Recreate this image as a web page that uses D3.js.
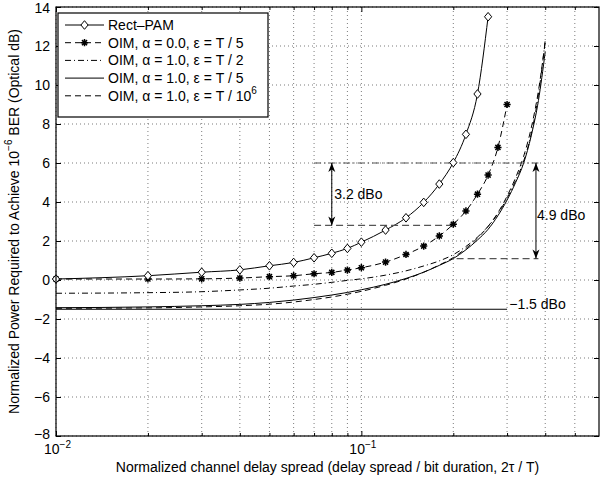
<!DOCTYPE html>
<html>
<head>
<meta charset="utf-8">
<script src="https://cdnjs.cloudflare.com/ajax/libs/d3/7.8.5/d3.min.js"></script>
<style>
  body { margin: 0; background: #fff; }
  svg { font-family: "Liberation Sans", Arial, Helvetica, sans-serif; }
</style>
</head>
<body>
<div id="chart"></div>
<script>
// ---- data ----
var pamX = [0.01, 0.02, 0.03, 0.04, 0.05, 0.06, 0.07, 0.08, 0.09, 0.1, 0.12, 0.14, 0.16, 0.18, 0.2, 0.22, 0.24, 0.26];
var pamY = [0.05, 0.22, 0.4, 0.52, 0.73, 0.9, 1.14, 1.37, 1.62, 1.94, 2.56, 3.19, 3.98, 4.92, 6.02, 7.47, 9.54, 13.5];

var oimA0X = [0.01, 0.02, 0.03, 0.04, 0.05, 0.06, 0.07, 0.08, 0.09, 0.1, 0.12, 0.14, 0.16, 0.18, 0.2, 0.22, 0.24, 0.26, 0.28, 0.3];
var oimA0Y = [0.05, 0.05, 0.06, 0.1, 0.17, 0.22, 0.32, 0.39, 0.51, 0.63, 0.92, 1.31, 1.74, 2.26, 2.86, 3.54, 4.4, 5.38, 6.8, 9.0];

var oimX = [0.01, 0.02, 0.03, 0.04, 0.05, 0.06, 0.07, 0.08, 0.09, 0.1, 0.12, 0.14, 0.16, 0.18, 0.2, 0.22, 0.24, 0.26, 0.28, 0.3, 0.32, 0.34, 0.36, 0.38, 0.4];
var oimHalfY = [-0.68, -0.65, -0.6, -0.51, -0.42, -0.31, -0.22, -0.12, -0.02, 0.06, 0.25, 0.47, 0.72, 0.98, 1.3, 1.72, 2.2, 2.75, 3.4, 4.2, 5.1, 6.1, 7.5, 9.5, 12.3];
var oimFifthY = [-1.42, -1.38, -1.32, -1.25, -1.15, -1.03, -0.9, -0.77, -0.64, -0.5, -0.22, 0.08, 0.4, 0.75, 1.1, 1.55, 2.05, 2.6, 3.3, 4.1, 5.0, 6.0, 7.4, 9.2, 11.7];
var oimTinyY = [-1.45, -1.43, -1.38, -1.32, -1.24, -1.13, -1.0, -0.87, -0.73, -0.58, -0.27, 0.05, 0.4, 0.77, 1.15, 1.62, 2.15, 2.75, 3.45, 4.3, 5.25, 6.35, 7.8, 9.7, 12.2];

var legendLabels = ["Rect\u2013PAM", "OIM, \u03b1 = 0.0, \u03b5 = T / 5", "OIM, \u03b1 = 1.0, \u03b5 = T / 2", "OIM, \u03b1 = 1.0, \u03b5 = T / 5", "OIM, \u03b1 = 1.0, \u03b5 = T / 10"];

var yTicks = [14, 12, 10, 8, 6, 4, 2, 0, -2, -4, -6, -8];
var xMajor = [0.01, 0.1];
var xMajorExp = ["\u22122", "\u22121"];
var xMinor = [0.02, 0.03, 0.04, 0.05, 0.06, 0.07, 0.08, 0.09, 0.2, 0.3, 0.4, 0.5];

// annotation values (dB)
var pamAt02 = 6.0, oimA0At02 = 2.8, oimAt02 = 1.1, floorLevel = -1.5;

// ---- layout ----
var W = 610, H = 483;
var margin = {top: 7, right: 11, bottom: 47, left: 56};
var w = W - margin.left - margin.right;
var h = H - margin.top - margin.bottom;
var fs = 14;

var svg = d3.select("#chart").append("svg")
  .attr("width", W).attr("height", H);

var defs = svg.append("defs");
defs.append("clipPath").attr("id", "clip")
  .append("rect").attr("width", w).attr("height", h);
defs.append("marker")
  .attr("id", "arrow")
  .attr("viewBox", "-10 -5 12 10")
  .attr("refX", 0).attr("refY", 0)
  .attr("markerWidth", 12).attr("markerHeight", 10)
  .attr("markerUnits", "userSpaceOnUse")
  .attr("orient", "auto-start-reverse")
  .append("path")
  .attr("d", "M0,0 L-9,-3.5 L-6.5,0 L-9,3.5 Z")
  .attr("fill", "#000");

var g = svg.append("g").attr("transform", "translate(" + margin.left + "," + margin.top + ")");

var x = d3.scaleLog().domain([0.01, 0.6]).range([0, w]);
var y = d3.scaleLinear().domain([-8, 14]).range([h, 0]);

// grid
var grid = g.append("g").attr("stroke", "#444").attr("stroke-width", 0.7).attr("stroke-dasharray", "1,3");
grid.selectAll(".gy").data(yTicks).enter().append("line")
  .attr("x1", 0).attr("x2", w)
  .attr("y1", function(d) { return y(d); }).attr("y2", function(d) { return y(d); });
grid.selectAll(".gx").data(xMajor.concat(xMinor)).enter().append("line")
  .attr("y1", 0).attr("y2", h)
  .attr("x1", function(d) { return x(d); }).attr("x2", function(d) { return x(d); });

// axes (inward ticks, labels drawn separately)
g.append("g").attr("transform", "translate(0," + h + ")")
  .call(d3.axisBottom(x).tickValues(xMajor).tickSize(-5).tickFormat(""));
g.append("g").attr("transform", "translate(0," + h + ")")
  .call(d3.axisBottom(x).tickValues(xMinor).tickSize(-3).tickFormat(""));
g.append("g")
  .call(d3.axisTop(x).tickValues(xMajor).tickSize(-5).tickFormat(""));
g.append("g")
  .call(d3.axisTop(x).tickValues(xMinor).tickSize(-3).tickFormat(""));
g.append("g")
  .call(d3.axisLeft(y).tickValues(yTicks).tickSize(-5).tickFormat(""));
g.append("g").attr("transform", "translate(" + w + ",0)")
  .call(d3.axisRight(y).tickValues(yTicks).tickSize(-5).tickFormat(""));
g.selectAll(".domain").remove();
g.selectAll(".tick line").attr("stroke", "#000");

// y tick labels
g.selectAll(".ylab").data(yTicks).enter().append("text")
  .attr("x", -6)
  .attr("y", function(d) { return y(d) + (d === 14 ? 1 : (d === -8 ? -1.5 : 0)); })
  .attr("dy", "0.35em")
  .attr("text-anchor", "end")
  .attr("font-size", fs)
  .text(function(d) { return d < 0 ? "\u2212" + Math.abs(d) : d; });

// x tick labels 10^n
var xl = g.selectAll(".xlab").data(xMajor).enter().append("text")
  .attr("x", function(d) { return x(d) - 12; })
  .attr("y", h + 18)
  .attr("font-size", fs);
xl.append("tspan").text("10");
xl.append("tspan").attr("dy", -6).attr("font-size", 10).text(function(d, i) { return xMajorExp[i]; });

// curves
var clip = g.append("g").attr("clip-path", "url(#clip)");
function makeLine(xv) {
  return d3.line()
    .x(function(d, i) { return x(xv[i]); })
    .y(function(d) { return y(d); })
    .curve(d3.curveMonotoneX);
}

// -1.5 dBo floor line
clip.append("line")
  .attr("x1", x(0.01)).attr("x2", x(0.3))
  .attr("y1", y(floorLevel)).attr("y2", y(floorLevel))
  .attr("stroke", "#000").attr("stroke-width", 1);

// annotation guide lines
var ann = g.append("g").attr("stroke", "#555").attr("stroke-width", 1.2).attr("fill", "none");
ann.append("line").attr("x1", x(0.07)).attr("x2", x(0.38))
  .attr("y1", y(pamAt02)).attr("y2", y(pamAt02)).attr("stroke-dasharray", "7,3,1.5,3");
ann.append("line").attr("x1", x(0.07)).attr("x2", x(0.2))
  .attr("y1", y(oimA0At02)).attr("y2", y(oimA0At02)).attr("stroke-dasharray", "7,4");
ann.append("line").attr("x1", x(0.205)).attr("x2", x(0.38))
  .attr("y1", y(oimAt02)).attr("y2", y(oimAt02)).attr("stroke-dasharray", "7,4");

clip.append("path").datum(oimHalfY).attr("d", makeLine(oimX))
  .attr("fill", "none").attr("stroke", "#000").attr("stroke-width", 1)
  .attr("stroke-dasharray", "6,3,1,3");
clip.append("path").datum(oimTinyY).attr("d", makeLine(oimX))
  .attr("fill", "none").attr("stroke", "#000").attr("stroke-width", 1)
  .attr("stroke-dasharray", "6,4");
clip.append("path").datum(oimFifthY).attr("d", makeLine(oimX))
  .attr("fill", "none").attr("stroke", "#000").attr("stroke-width", 1);
clip.append("path").datum(oimA0Y).attr("d", makeLine(oimA0X))
  .attr("fill", "none").attr("stroke", "#000").attr("stroke-width", 1)
  .attr("stroke-dasharray", "6,4");
clip.append("path").datum(pamY).attr("d", makeLine(pamX))
  .attr("fill", "none").attr("stroke", "#000").attr("stroke-width", 1);

// markers
function starPath(r) {
  // 8-arm asterisk like MATLAB '*'
  var p = "";
  for (var k = 0; k < 4; k++) {
    var a = k * Math.PI / 4;
    p += "M" + (-r * Math.cos(a)) + "," + (-r * Math.sin(a)) + "L" + (r * Math.cos(a)) + "," + (r * Math.sin(a));
  }
  return p;
}
g.selectAll(".star").data(oimA0Y).enter().append("path")
  .attr("transform", function(d, i) { return "translate(" + x(oimA0X[i]) + "," + y(d) + ")"; })
  .attr("d", starPath(3.6))
  .attr("stroke", "#000").attr("stroke-width", 1.5).attr("fill", "none");

function diamondPath(rx, ry) {
  return "M0," + (-ry) + "L" + rx + ",0L0," + ry + "L" + (-rx) + ",0Z";
}
g.selectAll(".dia").data(pamY).enter().append("path")
  .attr("transform", function(d, i) { return "translate(" + x(pamX[i]) + "," + y(d) + ")"; })
  .attr("d", diamondPath(3.6, 4.3))
  .attr("stroke", "#000").attr("stroke-width", 1).attr("fill", "#fff");

// arrows
g.append("line")
  .attr("x1", x(0.08)).attr("x2", x(0.08))
  .attr("y1", y(pamAt02)).attr("y2", y(oimA0At02))
  .attr("stroke", "#000").attr("stroke-width", 1)
  .attr("marker-start", "url(#arrow)").attr("marker-end", "url(#arrow)");
g.append("line")
  .attr("x1", x(0.373)).attr("x2", x(0.373))
  .attr("y1", y(pamAt02)).attr("y2", y(oimAt02))
  .attr("stroke", "#000").attr("stroke-width", 1)
  .attr("marker-start", "url(#arrow)").attr("marker-end", "url(#arrow)");

g.append("text").attr("x", x(0.0815)).attr("y", y(4.4)).attr("dy", "0.35em")
  .attr("font-size", fs).text("3.2 dBo");
g.append("text").attr("x", x(0.376)).attr("y", y(3.33)).attr("dy", "0.35em")
  .attr("font-size", fs).text("4.9 dBo");
g.append("text").attr("x", x(0.305)).attr("y", y(-1.23)).attr("dy", "0.35em")
  .attr("font-size", fs).text("\u22121.5 dBo");

// frame
g.append("rect").attr("width", w).attr("height", h)
  .attr("fill", "none").attr("stroke", "#000").attr("stroke-width", 1.2);

// legend
var lg = g.append("g").attr("transform", "translate(2,6)");
lg.append("rect").attr("width", 210).attr("height", 104)
  .attr("fill", "#fff").attr("stroke", "#000").attr("stroke-width", 1.2);
var styles = ["none", "6,4", "6,3,1,3", "none", "6,4"];
legendLabels.forEach(function(lab, i) {
  var yy = 12 + i * 17.7;
  lg.append("line").attr("x1", 7).attr("x2", 46).attr("y1", yy).attr("y2", yy)
    .attr("stroke", "#000").attr("stroke-width", 1)
    .attr("stroke-dasharray", styles[i] === "none" ? null : styles[i]);
  if (i === 0) {
    lg.append("path").attr("transform", "translate(26.5," + yy + ")")
      .attr("d", diamondPath(3.6, 4.3)).attr("stroke", "#000").attr("fill", "#fff");
  }
  if (i === 1) {
    lg.append("path").attr("transform", "translate(26.5," + yy + ")")
      .attr("d", starPath(3.6)).attr("stroke", "#000").attr("stroke-width", 1.5);
  }
  var t = lg.append("text").attr("x", 50).attr("y", yy).attr("dy", "0.36em")
    .attr("font-size", fs).text(lab);
  if (i === 4) t.append("tspan").attr("dy", -7).attr("font-size", 10).text("6");
});

// axis titles
g.append("text")
  .attr("x", w / 2).attr("y", h + 36)
  .attr("text-anchor", "middle").attr("font-size", fs)
  .text("Normalized channel delay spread (delay spread / bit duration, 2\u03c4 / T)");

var yt = svg.append("text")
  .attr("transform", "translate(19," + (margin.top + h / 2) + ") rotate(-90)")
  .attr("text-anchor", "middle").attr("font-size", fs);
yt.append("tspan").text("Normalized Power Required to Achieve 10");
yt.append("tspan").attr("dy", -7).attr("font-size", 10).text("\u22126");
yt.append("tspan").attr("dy", 7).text(" BER (Optical dB)");
</script>
</body>
</html>
